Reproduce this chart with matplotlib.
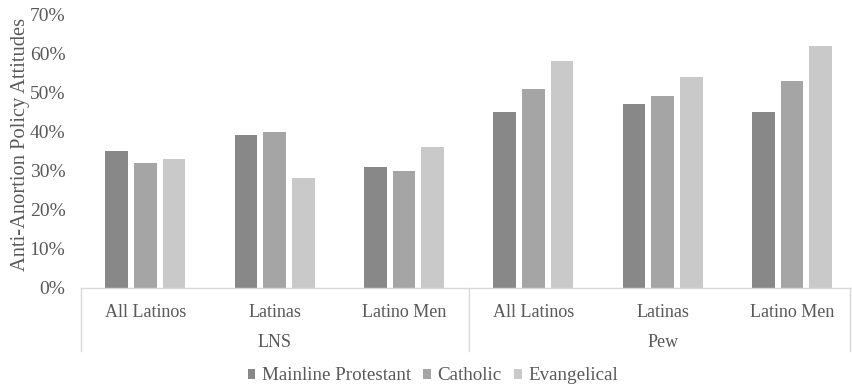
import matplotlib
matplotlib.use("Agg")
import matplotlib.pyplot as plt
import matplotlib.transforms as mtransforms
from matplotlib.ticker import PercentFormatter
import numpy as np

# Survey data: share holding anti-abortion policy attitudes
categories = ["All Latinos", "Latinas", "Latino Men", "All Latinos", "Latinas", "Latino Men"]
groups = ["LNS", "Pew"]
series = ["Mainline Protestant", "Catholic", "Evangelical"]
mainline = [35, 39, 31, 45, 47, 45]
catholic = [32, 40, 30, 51, 49, 53]
evangelical = [33, 28, 36, 58, 54, 62]
y_ticks = [0, 10, 20, 30, 40, 50, 60, 70]

colors = ["#888888", "#a5a5a5", "#c9c9c9"]
text_color = "#595959"
line_color = "#d9d9d9"

plt.rcParams["font.family"] = ["Liberation Serif", "DejaVu Serif"]
plt.rcParams["font.size"] = 13

fig = plt.figure(figsize=(8.52, 3.88), dpi=100)
ax = fig.add_axes([0.0947, 0.259, 0.9108, 0.7036])

x = np.arange(len(categories))
offset = 0.222
width = 0.175
for i, (vals, name) in enumerate(zip([mainline, catholic, evangelical], series)):
    ax.bar(x + (i - 1) * offset, np.array(vals) / 100.0, width=width,
           color=colors[i], label=name, zorder=2)

ax.set_xlim(-0.5, len(categories) - 0.5)
ax.set_ylim(0, 0.70)
ax.set_yticks(np.array(y_ticks) / 100.0)
ax.yaxis.set_major_formatter(PercentFormatter(1.0, decimals=0))

for side in ["top", "right", "left"]:
    ax.spines[side].set_visible(False)
ax.spines["bottom"].set_color(line_color)
ax.spines["bottom"].set_linewidth(1.0)

ax.tick_params(axis="y", length=0, pad=11, colors=text_color, labelsize=14)
ax.set_xticks(x)
ax.set_xticklabels(categories)
ax.tick_params(axis="x", length=0, pad=12, colors=text_color, labelsize=13)

# Group labels and dividers beneath the category labels
trans = mtransforms.blended_transform_factory(ax.transData, ax.transAxes)
for g, name in enumerate(groups):
    center = g * 3 + 1
    ax.text(center, -0.20, name, transform=trans, ha="center", va="center",
            color=text_color, fontsize=13)
for xd in [-0.5, 2.5, 5.445]:
    ax.plot([xd, xd], [0, -0.232], transform=trans, color=line_color,
            linewidth=1.0, clip_on=False)

fig.text(0.024, 0.629, "Anti-Anortion Policy Attitudes", rotation=90,
         ha="center", va="center", color=text_color, fontsize=14.8)

leg = fig.legend(loc="center", bbox_to_anchor=(433 / 852, 1 - 376 / 388), ncol=3,
                 frameon=False, handlelength=0.4, handleheight=0.4,
                 handletextpad=0.35, columnspacing=0.65, fontsize=13.7)
for t in leg.get_texts():
    t.set_color(text_color)

fig.savefig("out.png", dpi=100)
